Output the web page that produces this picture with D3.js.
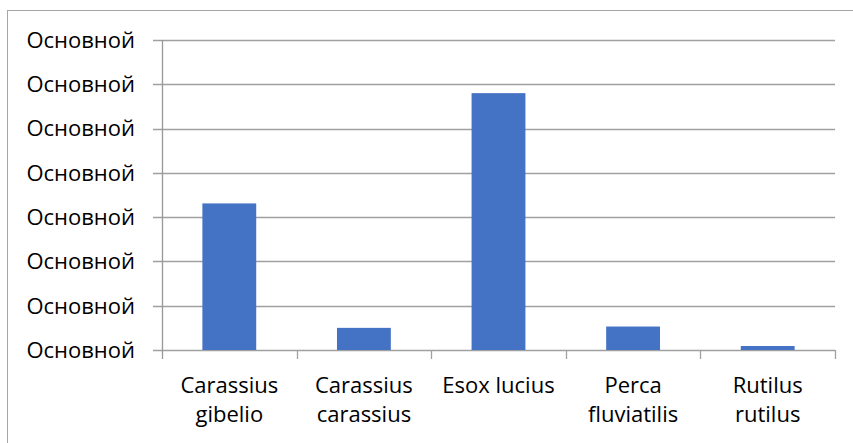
<!DOCTYPE html>
<html>
<head>
<meta charset="utf-8">
<script src="https://cdn.jsdelivr.net/npm/d3@7"></script>
<style>
  body { margin: 0; background: #fff; }
  text { font-family: "Open Sans", sans-serif; fill: #000; }
</style>
</head>
<body>
<div id="chart"></div>
<script>
const species = [
  ["Carassius", "gibelio"],
  ["Carassius", "carassius"],
  ["Esox lucius"],
  ["Perca", "fluviatilis"],
  ["Rutilus", "rutilus"],
]
const values = [3.31, 0.5, 5.8, 0.53, 0.09]
const yTicks = [0, 1, 2, 3, 4, 5, 6, 7]
const yTickLabel = "Основной"

const W = 853, H = 443
const plotLeft = 162, plotRight = 835, plotTop = 40, plotBottom = 350

const svg = d3.select("#chart").append("svg")
  .attr("width", W)
  .attr("height", H)

// outer frame
svg.append("rect")
  .attr("x", 7.5).attr("y", 10.5)
  .attr("width", W).attr("height", H)
  .attr("fill", "none")
  .attr("stroke", "#a6a6a6")

const names = species.map((d) => d.join(" "))
const x = d3.scaleBand()
  .domain(names)
  .range([plotLeft, plotRight])
  .paddingInner(0.6)
  .paddingOuter(0.3)
const xEdge = d3.scaleLinear().domain([0, names.length]).range([plotLeft, plotRight])
const y = d3.scaleLinear().domain([0, 7]).range([plotBottom, plotTop])

// gridlines
svg.append("g")
  .selectAll("line")
  .data(yTicks)
  .join("line")
  .attr("x1", plotLeft - 9)
  .attr("x2", plotRight)
  .attr("y1", (d) => Math.round(y(d)) + 0.5)
  .attr("y2", (d) => Math.round(y(d)) + 0.5)
  .attr("stroke", "#a0a0a0")
  .attr("stroke-width", 1.3)

// y axis labels
svg.append("g")
  .selectAll("text")
  .data(yTicks)
  .join("text")
  .attr("x", 135)
  .attr("y", (d) => y(d))
  .attr("dy", "0.36em")
  .attr("text-anchor", "end")
  .style("font-size", "22px")
  .text(yTickLabel)

// bars
svg.append("g")
  .selectAll("rect")
  .data(values)
  .join("rect")
  .attr("x", (d, i) => x(names[i]))
  .attr("y", (d) => y(d))
  .attr("width", x.bandwidth())
  .attr("height", (d) => y(0) - y(d))
  .attr("fill", "#4472c4")

// y axis line
svg.append("line")
  .attr("x1", plotLeft + 0.5).attr("x2", plotLeft + 0.5)
  .attr("y1", plotTop).attr("y2", plotBottom + 9)
  .attr("stroke", "#989898")
  .attr("stroke-width", 1.3)

// x axis category ticks
svg.append("g")
  .selectAll("line")
  .data(d3.range(1, names.length + 1))
  .join("line")
  .attr("x1", (d) => Math.round(xEdge(d)) + 0.5)
  .attr("x2", (d) => Math.round(xEdge(d)) + 0.5)
  .attr("y1", plotBottom)
  .attr("y2", plotBottom + 9)
  .attr("stroke", "#a0a0a0")
  .attr("stroke-width", 1.3)

// x labels
const xl = svg.append("g")
  .selectAll("text")
  .data(species)
  .join("text")
  .attr("text-anchor", "middle")
  .style("font-size", "22px")
xl.selectAll("tspan")
  .data((d, i) => d.map((t) => ({ t, i })))
  .join("tspan")
  .attr("x", (d) => x(names[d.i]) + x.bandwidth() / 2)
  .attr("y", (d, j) => 393 + j * 29)
  .text((d) => d.t)
</script>
</body>
</html>
